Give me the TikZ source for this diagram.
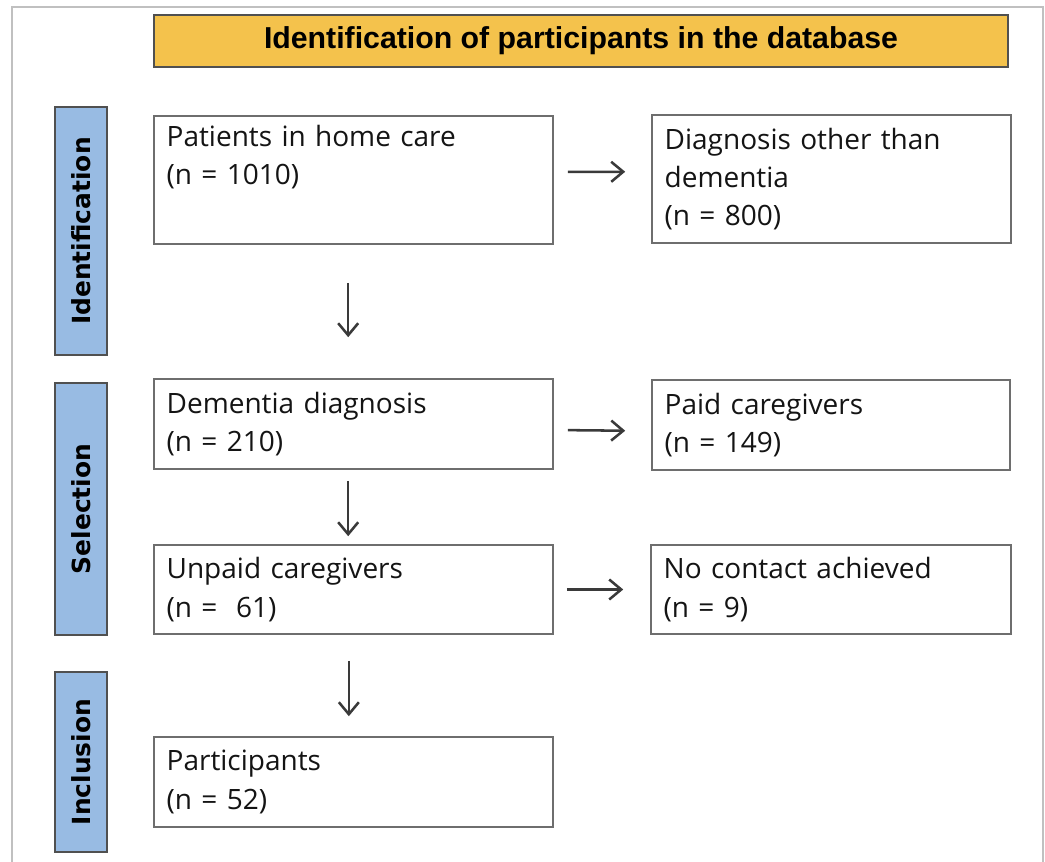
\documentclass[tikz,border=0pt]{standalone}
\usepackage{fontspec}
\setmainfont{Open Sans}
\newfontfamily\stagefont{DejaVu Sans}
\newfontfamily\headerfont{Liberation Sans}
\usetikzlibrary{arrows.meta}
\definecolor{stageblue}{HTML}{98BBE3}
\definecolor{headeryellow}{HTML}{F4C24C}
\definecolor{edgedark}{HTML}{505050}
\definecolor{boxgray}{HTML}{6E6E6E}
\definecolor{arrowgray}{HTML}{3A3A3A}
\definecolor{framegray}{HTML}{C0C0C0}

\begin{document}
\begin{tikzpicture}[x=0.75pt,y=-0.75pt,
    flowbox/.style={draw=boxgray,line width=1.2pt,fill=white,align=left,inner xsep=9.5pt,inner ysep=0pt,text=black!92,font=\fontsize{21}{28.8}\selectfont},
    stagebox/.style={draw=edgedark,line width=1.2pt,fill=stageblue,rotate=90,minimum height=39pt,inner sep=0pt,font=\stagefont\bfseries\fontsize{18.7}{22}\selectfont},
    flowarrow/.style={-{Straight Barb[length=9pt,width=15pt]},line width=1.9pt,arrowgray}]
    \useasboundingbox (0,0) rectangle (1045,862);
    \draw[framegray,line width=1.5pt] (11.5,862) -- (11.5,7.5) -- (1043,7.5) -- (1043,862);
    % header and stages
    \node[draw=edgedark,line width=1.2pt,fill=headeryellow,minimum width=640.5pt,minimum height=39pt,inner sep=0pt,font=\headerfont\bfseries\fontsize{22.7}{24}\selectfont] (header) at (581,41) {Identification of participants in the database};
    \node[stagebox,minimum width=186pt] (identlab) at (81,231) {Identification};
    \node[stagebox,minimum width=189pt] (selectlab) at (81,509) {Selection};
    \node[stagebox,minimum width=135pt] (inclab) at (81,762) {Inclusion};
    % boxes
    \node[flowbox,text width=280.25pt,minimum height=96pt] (patients) at (353.5,180) {Patients in home care\\(n = 1010)\\\strut};
    \node[flowbox,text width=250.25pt,minimum height=96pt] (other) at (831.5,179) {Diagnosis other than\\dementia\\(n = 800)};
    \node[flowbox,text width=280.25pt,minimum height=67.5pt] (dementia) at (353.5,424) {Dementia diagnosis\\(n = 210)};
    \node[flowbox,text width=249.5pt,minimum height=67.5pt] (paid) at (831,425) {Paid caregivers\\(n = 149)};
    \node[flowbox,text width=280.25pt,minimum height=66.75pt] (unpaid) at (353.5,589.5) {Unpaid caregivers\\(n = \ 61)};
    \node[flowbox,text width=251pt,minimum height=66.75pt] (nocontact) at (831,589.5) {No contact achieved\\(n = 9)};
    \node[flowbox,text width=280.25pt,minimum height=67.5pt] (participants) at (353.5,782) {Participants\\(n = 52)};
    % arrows
    \draw[flowarrow,shorten <=10.5pt,shorten >=19.5pt] ([yshift=6pt]patients.east) -- ([yshift=5.5pt]other.west);
    \draw[flowarrow,shorten <=10.5pt,shorten >=19.5pt] ([yshift=-4.5pt]dementia.east) -- ([yshift=-4.5pt]paid.west);
    \draw[flowarrow,shorten <=9.75pt,shorten >=20.25pt] (unpaid.east) -- (nocontact.west);
    \draw[flowarrow,shorten <=28.5pt,shorten >=30.75pt] ([xshift=-4pt]patients.south) -- ([xshift=-4pt]dementia.north);
    \draw[flowarrow,shorten <=8.25pt,shorten >=6pt] ([xshift=-4pt]dementia.south) -- ([xshift=-4pt]unpaid.north);
    \draw[flowarrow,shorten <=19.5pt,shorten >=15pt] ([xshift=-3.5pt]unpaid.south) -- ([xshift=-3.5pt]participants.north);
\end{tikzpicture}
\end{document}
